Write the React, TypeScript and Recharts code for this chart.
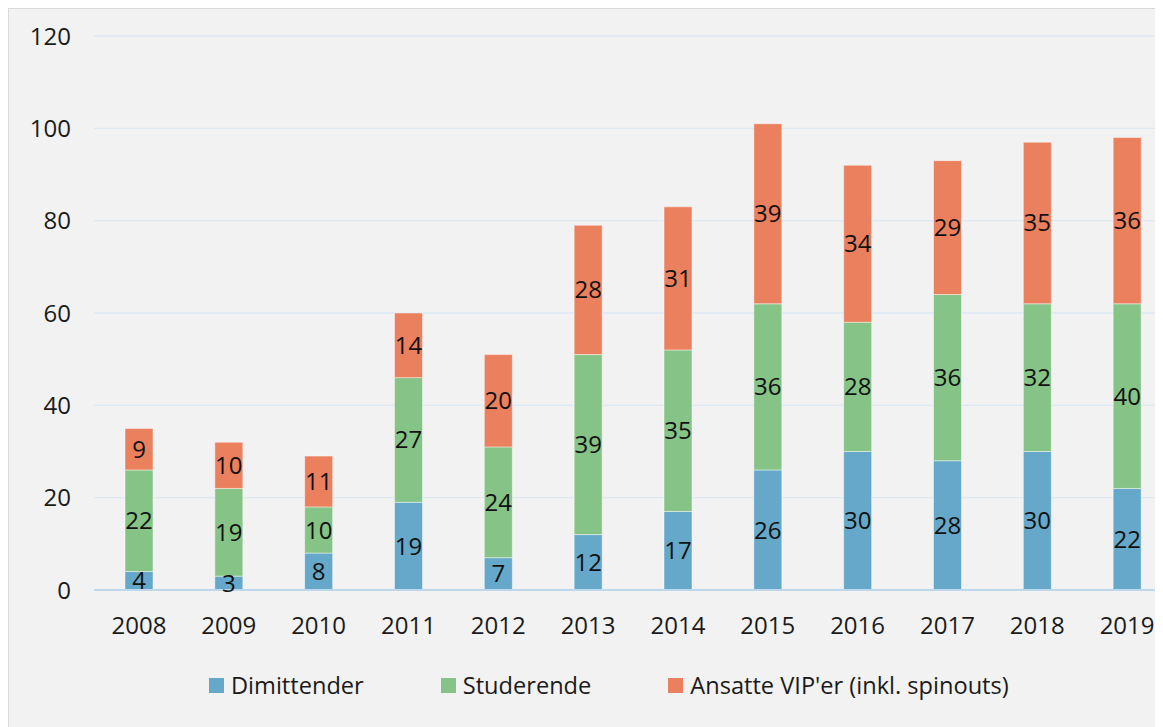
import React from 'react';
import { BarChart, Bar, XAxis, YAxis, CartesianGrid, Legend, LabelList } from 'recharts';

const years = ['2008', '2009', '2010', '2011', '2012', '2013', '2014', '2015', '2016', '2017', '2018', '2019'];
const dimittender = [4, 3, 8, 19, 7, 12, 17, 26, 30, 28, 30, 22];
const studerende = [22, 19, 10, 27, 24, 39, 35, 36, 28, 36, 32, 40];
const ansatte = [9, 10, 11, 14, 20, 28, 31, 39, 34, 29, 35, 36];
const yTicks = [0, 20, 40, 60, 80, 100, 120];

const series = [
  { key: 'dimittender', name: 'Dimittender', color: '#65a8c9' },
  { key: 'studerende', name: 'Studerende', color: '#86c386' },
  { key: 'ansatte', name: "Ansatte VIP'er (inkl. spinouts)", color: '#eb805e' },
];

const chartData = years.map((year, i) => ({
  year,
  dimittender: dimittender[i],
  studerende: studerende[i],
  ansatte: ansatte[i],
}));

const FONT = '"Open Sans", "Noto Sans", sans-serif';

const renderLegend = () => (
  <div style={{ display: 'flex', alignItems: 'center', paddingLeft: 200, fontFamily: FONT, fontSize: 23.6, color: '#1a1a1a', height: 40 }}>
    {series.map((s, i) => (
      <div key={s.key} style={{ display: 'flex', alignItems: 'center', marginRight: i < series.length - 1 ? 77 : 0 }}>
        <span style={{ width: 15, height: 15, background: s.color, display: 'inline-block', marginRight: 7 }} />
        <span>{s.name}</span>
      </div>
    ))}
  </div>
);

const App: React.FC = () => {
  return (
    <div style={{ width: 1155, height: 719, overflow: 'hidden', background: '#f2f2f2', borderTop: '1px solid #d9d9d9', borderLeft: '1px solid #d9d9d9', boxSizing: 'border-box' }}>
      <BarChart width={1163} height={717} data={chartData} margin={{ top: 27, right: 0, left: 0, bottom: 21 }}>
        <CartesianGrid vertical={false} stroke="#dce9f3" strokeWidth={1.3} />
        <XAxis
          dataKey="year"
          axisLine={{ stroke: '#bdd8ea', strokeWidth: 2 }}
          tickLine={false}
          height={75}
          tickMargin={21}
          tick={{ fill: '#1a1a1a', fontSize: 24, fontFamily: FONT }}
        />
        <YAxis
          width={85}
          domain={[0, 120]}
          ticks={yTicks}
          axisLine={false}
          tickLine={false}
          tickMargin={17}
          tick={{ fill: '#1a1a1a', fontSize: 24, fontFamily: FONT }}
        />
        <Legend verticalAlign="bottom" height={40} content={renderLegend} />
        {series.map(s => (
          <Bar
            key={s.key}
            dataKey={s.key}
            name={s.name}
            stackId="a"
            fill={s.color}
            stroke="rgba(255,255,255,0.45)"
            strokeWidth={1}
            barSize={28}
            isAnimationActive={false}
          >
            <LabelList dataKey={s.key} position="center" fill="#111" fontSize={24} fontFamily={FONT} />
          </Bar>
        ))}
      </BarChart>
    </div>
  );
};

export default App;
